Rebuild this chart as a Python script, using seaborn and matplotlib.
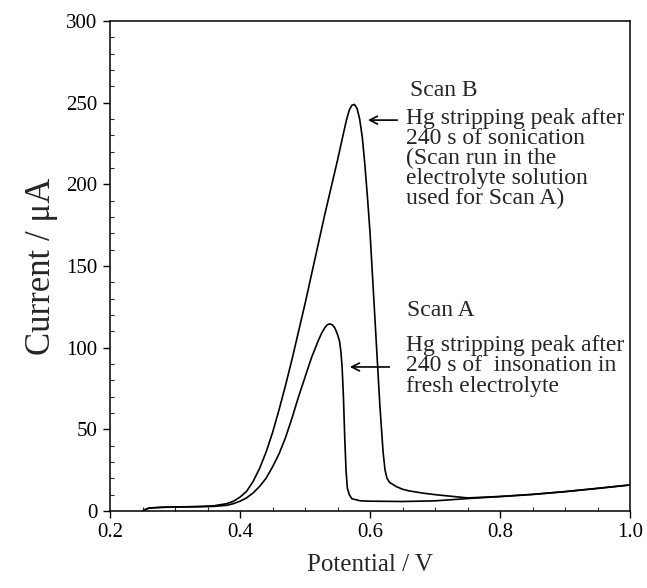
import numpy as np
import matplotlib
matplotlib.use("Agg")
import matplotlib.pyplot as plt
import seaborn as sns
from matplotlib.ticker import MultipleLocator

# Scan A: Hg stripping after 240 s insonation in fresh electrolyte
potential_a = [0.25, 0.255, 0.26, 0.28, 0.30, 0.32, 0.34, 0.36, 0.38, 0.39,
               0.40, 0.41, 0.42, 0.43, 0.44, 0.45, 0.46, 0.47, 0.48, 0.49,
               0.50, 0.51, 0.52, 0.525, 0.53, 0.534, 0.538, 0.542, 0.546, 0.55,
               0.553, 0.555, 0.557, 0.559, 0.561, 0.563, 0.565, 0.568, 0.572, 0.585,
               0.60, 0.65, 0.70, 0.75, 0.80, 0.85, 0.90, 0.95, 1.00]
current_a = [0.0, 1.0, 1.8, 2.2, 2.4, 2.5, 2.6, 2.8, 3.5, 4.5,
             6.0, 8.0, 11, 15, 20, 27, 35, 45, 57, 70,
             82, 94, 104, 108.5, 112, 114, 114.6, 114, 112, 108,
             104, 98, 88, 70, 45, 25, 14, 10, 7.5, 6.2,
             6.0, 5.8, 6.2, 7.6, 8.8, 10.1, 11.8, 13.8, 15.9]

# Scan B: after 240 s sonication, same electrolyte
potential_b = [0.25, 0.255, 0.26, 0.28, 0.30, 0.32, 0.34, 0.36, 0.38, 0.39,
               0.40, 0.41, 0.42, 0.43, 0.44, 0.45, 0.46, 0.47, 0.48, 0.49,
               0.50, 0.51, 0.52, 0.53, 0.54, 0.55, 0.555, 0.56, 0.564, 0.568,
               0.572, 0.576, 0.58, 0.584, 0.588, 0.592, 0.596, 0.60, 0.605, 0.61,
               0.615, 0.62, 0.623, 0.626, 0.63, 0.64, 0.65, 0.66, 0.68, 0.70,
               0.72, 0.75, 0.80, 0.85, 0.90, 0.95, 1.00]
current_b = [0.0, 1.0, 1.8, 2.3, 2.5, 2.6, 2.8, 3.2, 4.5, 6.0,
             8.5, 12, 18, 26, 36, 48, 62, 77, 93, 110,
             127, 145, 163, 181, 198, 215, 224, 233, 240, 245.5,
             248.5, 249, 246.5, 240, 229, 212, 192, 170, 135, 100,
             65, 36, 25, 20, 17.5, 15, 13.3, 12.3, 11, 10,
             9.2, 8.0, 8.9, 10.2, 11.9, 13.9, 16.0]

label_b = ["Hg stripping peak after", "240 s of sonication", "(Scan run in the",
           "electrolyte solution", "used for Scan A)"]
label_a = ["Hg stripping peak after", "240 s of  insonation in", "fresh electrolyte"]

sns.set_theme(style="ticks")
plt.rcParams['font.family'] = ['Liberation Serif', 'DejaVu Serif']

fig = plt.figure(figsize=(6.47, 5.88), dpi=100)
ax = fig.add_axes([0.170, 0.131, 0.804, 0.833])

sns.lineplot(x=potential_a, y=current_a, color="black", lw=1.2, ax=ax)
sns.lineplot(x=potential_b, y=current_b, color="black", lw=1.2, ax=ax)

ax.set_xlim(0.2, 1.0)
ax.set_ylim(0, 300)
ax.xaxis.set_minor_locator(MultipleLocator(0.05))
ax.yaxis.set_major_locator(MultipleLocator(50))
ax.yaxis.set_minor_locator(MultipleLocator(10))
ax.set_xticks(np.arange(0.2, 1.01, 0.2))
ax.set_xticklabels(["0.2", "0.4", "0.6", "0.8", "1.0"])

ax.tick_params(which="major", direction="out", length=5, width=1, labelsize=15,
               colors="black", pad=4)
ax.tick_params(which="minor", direction="in", length=3, width=0.8)
for s in ax.spines.values():
    s.set_color("black")
    s.set_linewidth(1.1)
    s.set_visible(True)

ax.set_xlabel("Potential / V", fontsize=18, labelpad=8)
ax.set_ylabel("Current / \u03bcA", fontsize=25, labelpad=6)

# annotations
fs = 17
ax.text(0.6615, 257.8, "Scan B", fontsize=fs, ha="left", va="center")
for i, line in enumerate(label_b):
    ax.text(0.6554, 240.6 - i * 12.24, line, fontsize=fs, ha="left", va="center")
ax.annotate("", xy=(0.5923, 239.4), xytext=(0.646, 239.4),
            arrowprops=dict(arrowstyle="->", lw=1.2, color="black", mutation_scale=14))

ax.text(0.657, 123, "Scan A", fontsize=fs, ha="left", va="center")
for i, line in enumerate(label_a):
    ax.text(0.6554, 101.6 - i * 12.6, line, fontsize=fs, ha="left", va="center")
ax.annotate("", xy=(0.5646, 88.2), xytext=(0.634, 88.2),
            arrowprops=dict(arrowstyle="->", lw=1.2, color="black", mutation_scale=14))

fig.savefig("out.png", dpi=100)
